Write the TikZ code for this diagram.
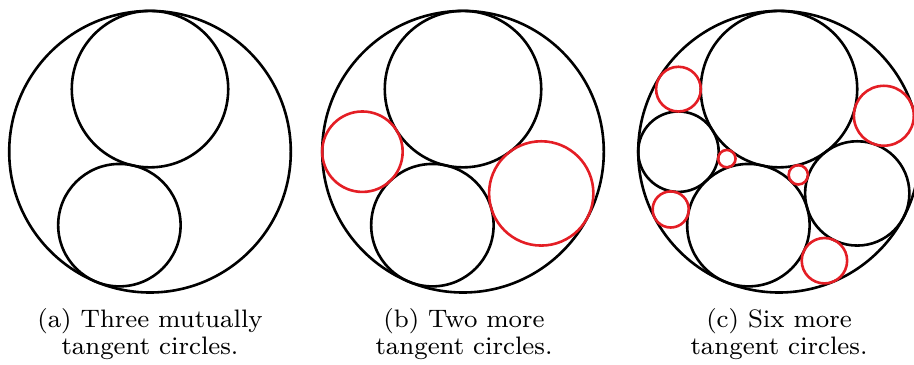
\documentclass[tikz,border=0pt]{standalone}
\definecolor{circred}{RGB}{228,30,37}
\tikzset{
  blk/.style={draw=black, line width=1.3pt},
  rd/.style={draw=circred, line width=1.3pt},
  captionline/.style={anchor=base, inner sep=0pt, outer sep=0pt},
  panel/.style={x=70.4pt, y=70.4pt}
}
\newcommand{\captext}[1]{\scalebox{1.58}{\fontsize{8}{9.5}\selectfont #1}}
\newcommand{\basecircles}{%
  \draw[blk] (0,0) circle (1);
  \draw[blk] (0,0.44444) circle (0.55556);
  \draw[blk] (-0.21739,-0.52174) circle (0.43478);
}
\begin{document}
\begin{tikzpicture}[x=0.5pt,y=-0.5pt]
\useasboundingbox (0,0) rectangle (914,364);
\clip (0,0) rectangle (914,364);
% panel (a)
\begin{scope}[shift={(150,151.7)}, panel]
  \basecircles
\end{scope}
% panel (b)
\begin{scope}[shift={(463,151.7)}, panel]
  \basecircles
  \draw[rd] (-0.71429,0) circle (0.28571);
  \draw[rd] (0.55556,-0.29630) circle (0.37037);
\end{scope}
% panel (c)
\begin{scope}[shift={(779,151.7)}, panel]
  \basecircles
  \draw[blk] (-0.71429,0) circle (0.28571);
  \draw[blk] (0.55556,-0.29630) circle (0.37037);
  \draw[rd] (-0.71429,0.44444) circle (0.15873);
  \draw[rd] (-0.76923,-0.41026) circle (0.12821);
  \draw[rd] (-0.37037,-0.04938) circle (0.061728);
  \draw[rd] (0.13699,-0.16438) circle (0.068493);
  \draw[rd] (0.74468,0.25532) circle (0.21277);
  \draw[rd] (0.32258,-0.77419) circle (0.16129);
\end{scope}
% captions
\node[captionline] (capa1) at (150,327.5) {\captext{(a) Three mutually}};
\node[captionline] (capa2) at (150,354.8) {\captext{tangent circles.}};
\node[captionline] (capb1) at (464,327.5) {\captext{(b) Two more}};
\node[captionline] (capb2) at (464,354.8) {\captext{tangent circles.}};
\node[captionline] (capc1) at (779,327.5) {\captext{(c) Six more}};
\node[captionline] (capc2) at (779,354.8) {\captext{tangent circles.}};
\end{tikzpicture}
\end{document}
